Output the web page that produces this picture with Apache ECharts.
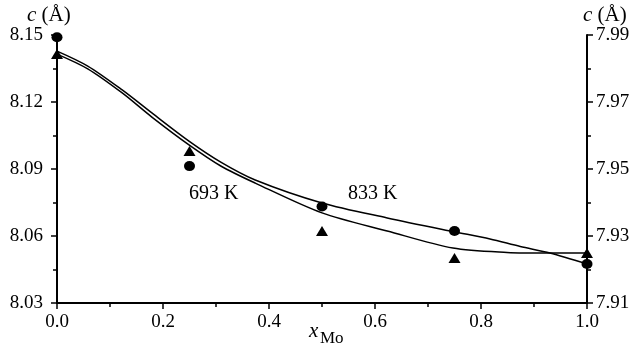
<!DOCTYPE html>
<html>
<head>
<meta charset="utf-8">
<script src="https://cdn.jsdelivr.net/npm/echarts@6/dist/echarts.min.js"></script>
<style>
html,body{margin:0;padding:0;background:#fff;}
#chart{width:640px;height:349px;}
</style>
</head>
<body>
<div id="chart"></div>
<script>
// x positions (x_Mo)
var xPoints = [0, 0.25, 0.5, 0.75, 1.0];
// circle markers, left axis c (Å)
var circleValues = [8.149, 8.0913, 8.0732, 8.0622, 8.0475];
// triangle markers, right axis c (Å)
var triangleValues = [7.9843, 7.9554, 7.9315, 7.9234, 7.9249];

// fitted curve through circles (left axis)
var upperCurveX = [0, 0.058, 0.123, 0.179, 0.249, 0.309, 0.374, 0.5, 0.623, 0.747, 0.817, 0.874, 0.93, 1.0];
var upperCurveY = [8.1428, 8.1361, 8.1254, 8.1151, 8.1025, 8.0931, 8.0851, 8.0748, 8.0681, 8.0620, 8.0587, 8.0553, 8.0524, 8.0475];
// fitted curve through triangles (right axis)
var lowerCurveX = [0, 0.058, 0.123, 0.179, 0.249, 0.309, 0.374, 0.5, 0.623, 0.747, 0.849, 0.93, 1.0];
var lowerCurveY = [7.9843, 7.9799, 7.9727, 7.9655, 7.9572, 7.9509, 7.9458, 7.9369, 7.9315, 7.9264, 7.9251, 7.9249, 7.9249];

var leftTicks = {min: 8.03, max: 8.15, interval: 0.03};
var rightTicks = {min: 7.91, max: 7.99, interval: 0.02};
var xTicks = {min: 0, max: 1.0, interval: 0.2};

var curveLabels = ['693 K', '833 K'];
var xName = ['x', 'Mo'];
var yName = ['c', ' (Å)'];

function zip(a, b) { return a.map(function (v, i) { return [v, b[i]]; }); }

var FONT = '"Liberation Serif", "DejaVu Serif", serif';
var chart = echarts.init(document.getElementById('chart'), null, {renderer: 'canvas'});

var axisCommon = {
  axisLine: {show: true, onZero: false, lineStyle: {color: '#000', width: 2}},
  axisTick: {show: true, inside: false, length: 6, lineStyle: {color: '#000', width: 1.5}},
  minorTick: {show: true, splitNumber: 2, length: 4, lineStyle: {color: '#000', width: 1.5}},
  splitLine: {show: false},
  minorSplitLine: {show: false}
};

var yTitleRich = {i: {fontFamily: FONT, fontStyle: 'italic', fontSize: 21, fill: '#000'},
                  n: {fontFamily: FONT, fontSize: 21, fill: '#000'}};

var option = {
  animation: false,
  backgroundColor: '#fff',
  grid: {left: 57, right: 53, top: 35, bottom: 46, containLabel: false, outerBoundsMode: 'none'},
  xAxis: Object.assign({}, axisCommon, {
    type: 'value',
    min: xTicks.min, max: xTicks.max, interval: xTicks.interval,
    axisLabel: {color: '#000', fontFamily: FONT, fontSize: 19, margin: 10,
      formatter: function (v) { return v.toFixed(1); }}
  }),
  yAxis: [
    Object.assign({}, axisCommon, {
      type: 'value', position: 'left',
      min: leftTicks.min, max: leftTicks.max, interval: leftTicks.interval,
      axisLabel: {color: '#000', fontFamily: FONT, fontSize: 19, margin: 14,
        formatter: function (v) { return v.toFixed(2); }}
    }),
    Object.assign({}, axisCommon, {
      type: 'value', position: 'right',
      min: rightTicks.min, max: rightTicks.max, interval: rightTicks.interval,
      axisLabel: {color: '#000', fontFamily: FONT, fontSize: 19, margin: 9,
        formatter: function (v) { return v.toFixed(2); }}
    })
  ],
  graphic: [
    {type: 'text', left: 27, top: 5, style: {text: '{i|' + yName[0] + '}{n|' + yName[1] + '}', rich: yTitleRich}},
    {type: 'text', left: 583, top: 5, style: {text: '{i|' + yName[0] + '}{n|' + yName[1] + '}', rich: yTitleRich}},
    {type: 'text', left: 309, top: 321, style: {text: xName[0], fill: '#000', font: 'italic 21px ' + FONT}},
    {type: 'text', left: 320, top: 330, style: {text: xName[1], fill: '#000', font: '17px ' + FONT}},
    {type: 'text', left: 189, top: 184, style: {text: curveLabels[0], fill: '#000', font: '20px ' + FONT}},
    {type: 'text', left: 348, top: 184, style: {text: curveLabels[1], fill: '#000', font: '20px ' + FONT}}
  ],
  series: [
    {
      type: 'line', xAxisIndex: 0, yAxisIndex: 0, data: zip(upperCurveX, upperCurveY),
      smooth: 0.3, showSymbol: false, symbol: 'none', clip: false,
      lineStyle: {color: '#000', width: 1.5}, z: 3
    },
    {
      type: 'line', xAxisIndex: 0, yAxisIndex: 1, data: zip(lowerCurveX, lowerCurveY),
      smooth: 0.3, showSymbol: false, symbol: 'none', clip: false,
      lineStyle: {color: '#000', width: 1.5}, z: 3
    },
    {
      type: 'scatter', yAxisIndex: 0, data: zip(xPoints, circleValues),
      symbol: 'circle', symbolSize: [11, 10], clip: false,
      itemStyle: {color: '#000', opacity: 1}, z: 4
    },
    {
      type: 'scatter', yAxisIndex: 1, data: zip(xPoints, triangleValues),
      symbol: 'triangle', symbolSize: [12, 10], clip: false,
      itemStyle: {color: '#000', opacity: 1}, z: 4
    }
  ]
};
chart.setOption(option);
</script>
</body>
</html>
